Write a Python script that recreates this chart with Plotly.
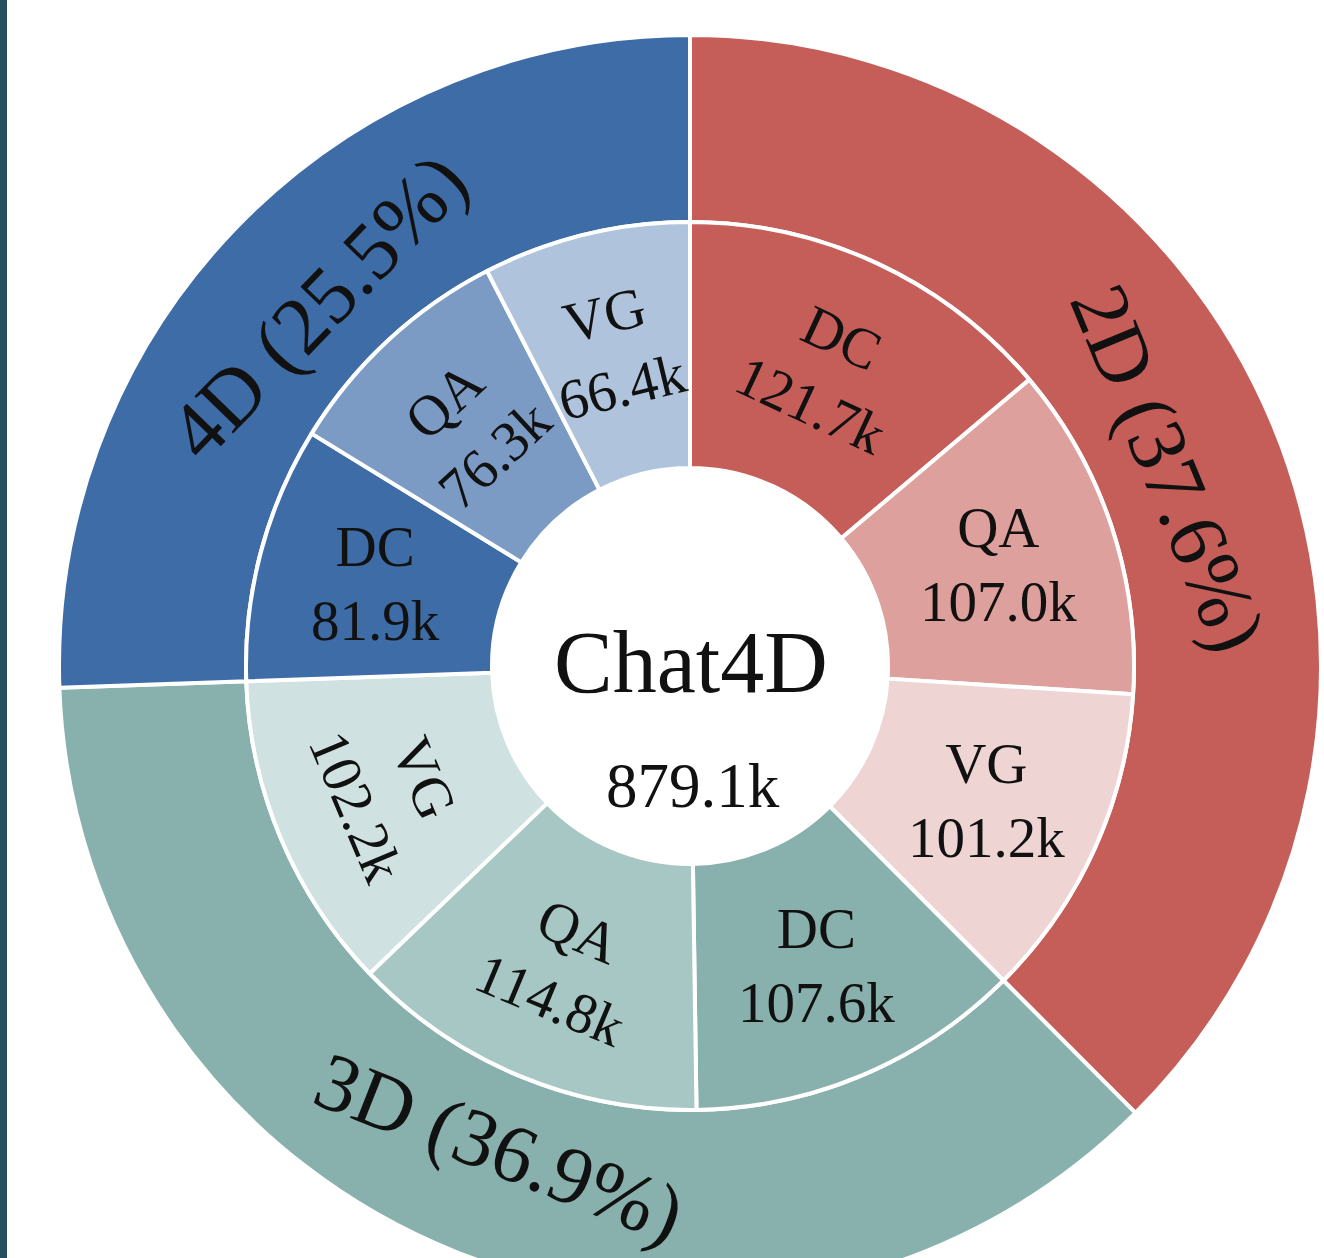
import math
import plotly.graph_objects as go

# ---------------- data ----------------
groups = ["2D", "3D", "4D"]
group_share_pct = [37.6, 36.9, 25.5]
tasks = ["DC", "QA", "VG"]
dc_k = [121.7, 107.6, 81.9]
qa_k = [107.0, 114.8, 76.3]
vg_k = [101.2, 102.2, 66.4]
center_title = "Chat4D"

# ---------------- style ----------------
group_colors = ["#C55E58", "#88B1AE", "#3E6CA7"]
task_colors = [
    ["#C55E58", "#DDA09D", "#EFD4D4"],
    ["#88B1AE", "#A6C7C4", "#CFE1E0"],
    ["#3E6CA7", "#7B9BC4", "#AFC3DC"],
]
# label orientation per inner slice: 't' tangential, 'h' horizontal
inner_orient = [["t", "h", "h"], ["h", "t", "t"], ["h", "t", "t"]]
FONT = "Liberation Serif, Times New Roman, serif"
W, H = 1324, 1300
CX, CY = 690, 666          # pie centre in pixels (from top-left)
R_OUT, R_MID, R_HOLE = 631, 444, 198

# ---------------- build series ----------------
inner_labels, inner_values, inner_colors, inner_orients = [], [], [], []
for gi, g in enumerate(groups):
    for ti, (t, vals) in enumerate(zip(tasks, [dc_k, qa_k, vg_k])):
        inner_labels.append(t)
        inner_values.append(vals[gi])
        inner_colors.append(task_colors[gi][ti])
        inner_orients.append(inner_orient[gi][ti])
group_totals = [dc_k[i] + qa_k[i] + vg_k[i] for i in range(len(groups))]
total = sum(inner_values)


def dom(r):
    return dict(x=[(CX - r) / W, (CX + r) / W],
                y=[(H - CY - r) / H, (H - CY + r) / H])


def to_paper(theta, r):
    x = CX + r * math.cos(math.radians(theta))
    y = CY - r * math.sin(math.radians(theta))
    return x / W, 1 - y / H


def tangential(theta):
    a = 90 - theta
    while a > 90:
        a -= 180
    while a < -90:
        a += 180
    return a


fig = go.Figure()
fig.add_trace(go.Pie(
    values=group_totals, labels=groups, sort=False, direction="clockwise",
    rotation=0, hole=R_MID / R_OUT, domain=dom(R_OUT),
    marker=dict(colors=group_colors, line=dict(color="white", width=4)),
    textinfo="none", hoverinfo="skip", showlegend=False))
fig.add_trace(go.Pie(
    values=inner_values, labels=[f"{g}-{t}" for g in groups for t in tasks],
    sort=False, direction="clockwise", rotation=0, hole=R_HOLE / R_MID,
    domain=dom(R_MID),
    marker=dict(colors=inner_colors, line=dict(color="white", width=4)),
    textinfo="none", hoverinfo="skip", showlegend=False))

annotations = []
# inner labels
cum = 0.0
r_in = (R_HOLE + R_MID) / 2 + 4
for lab, v, o in zip(inner_labels, inner_values, inner_orients):
    mid = 90 - (cum + v / 2) / total * 360
    cum += v
    x, y = to_paper(mid, r_in)
    annotations.append(dict(
        x=x, y=y, xref="paper", yref="paper", xanchor="center", yanchor="middle",
        text=f"{lab}<br>{v:.1f}k", showarrow=False,
        textangle=tangential(mid) if o == "t" else 0,
        font=dict(family=FONT, size=57, color="#111111")))

# outer labels
cum = 0.0
r_o = 518
for g, v, p in zip(groups, group_totals, group_share_pct):
    mid = 90 - (cum + v / 2) / total * 360
    cum += v
    x, y = to_paper(mid, r_o)
    annotations.append(dict(
        x=x, y=y, xref="paper", yref="paper", xanchor="center", yanchor="middle",
        text=f"{g} ({p:.1f}%)", showarrow=False, textangle=tangential(mid),
        font=dict(family=FONT, size=82, color="#111111")))

# centre
annotations.append(dict(
    x=691 / W, y=1 - 662 / H, xref="paper", yref="paper", xanchor="center",
    yanchor="middle", text=center_title, showarrow=False,
    font=dict(family=FONT, size=88, color="#111111")))
annotations.append(dict(
    x=693 / W, y=1 - 786 / H, xref="paper", yref="paper", xanchor="center",
    yanchor="middle", text=f"{total:.1f}k", showarrow=False,
    font=dict(family=FONT, size=63, color="#111111")))

fig.update_layout(
    width=W, height=H, margin=dict(l=0, r=0, t=0, b=0),
    paper_bgcolor="white", plot_bgcolor="white",
    annotations=annotations,
    shapes=[dict(type="rect", xref="paper", yref="paper", x0=0, x1=7 / W,
                 y0=0, y1=1, fillcolor="#264F5E", line=dict(width=0),
                 layer="above")],
)

fig.write_html("out.html",
               config={"displayModeBar": False},
               post_script="document.body.style.margin='0';"
                           "document.body.style.overflow='hidden';"
                           "document.documentElement.style.overflow='hidden';")
